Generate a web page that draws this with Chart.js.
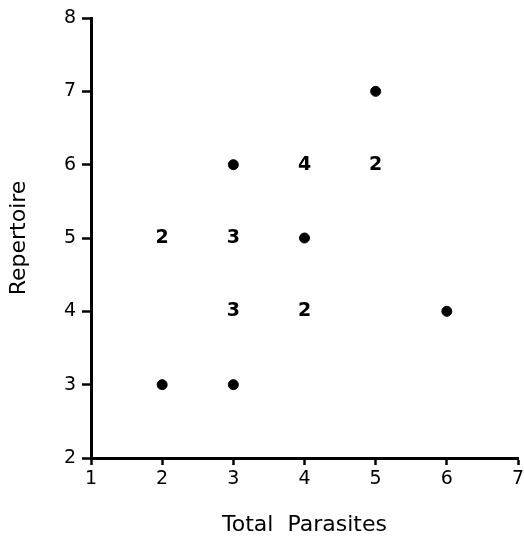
<!DOCTYPE html>
<html>
<head>
<meta charset="utf-8">
<script src="https://cdn.jsdelivr.net/npm/chart.js@4"></script>
<style>
  html, body { margin: 0; padding: 0; background: #fff; }
  #wrap { width: 524px; height: 544px; }
</style>
</head>
<body>
<div id="wrap"><canvas id="chart" width="524" height="544"></canvas></div>
<script>
// Puntos individuales (un solo caso)
const dotX = [2, 3, 3, 4, 5, 6];
const dotY = [3, 3, 6, 5, 7, 4];

// Posiciones con varios casos: se dibuja el número en vez del punto
const countX = [2, 3, 3, 4, 4, 5];
const countY = [5, 5, 4, 4, 6, 6];
const countN = [2, 3, 3, 2, 4, 2];

const xTicks = [1, 2, 3, 4, 5, 6, 7];
const yTicks = [2, 3, 4, 5, 6, 7, 8];

const FONT = '"DejaVu Sans", sans-serif';

// Plugin para escribir los conteos usando las escalas de la gráfica
const countLabels = {
    id: 'countLabels',
    afterDatasetsDraw(chart) {
        const ctx = chart.ctx;
        const xs = chart.scales.x, ys = chart.scales.y;
        ctx.save();
        ctx.fillStyle = '#000';
        ctx.font = 'bold 19px ' + FONT;
        ctx.textAlign = 'center';
        ctx.textBaseline = 'middle';
        for (let i = 0; i < countN.length; i++) {
            ctx.fillText(String(countN[i]), xs.getPixelForValue(countX[i]), ys.getPixelForValue(countY[i]));
        }
        ctx.restore();
    }
};

new Chart(document.getElementById('chart').getContext('2d'), {
    type: 'scatter',
    data: {
        datasets: [{
            data: dotX.map((x, i) => ({ x: x, y: dotY[i] })),
            backgroundColor: '#000',
            borderColor: '#000',
            pointRadius: 5,
            pointHoverRadius: 5
        }]
    },
    options: {
        responsive: false,
        animation: false,
        events: [],
        layout: { padding: { top: 18, right: 0, left: 0, bottom: 0 } },
        plugins: { legend: { display: false }, tooltip: { enabled: false } },
        scales: {
            x: {
                type: 'linear',
                min: 1, max: 7,
                afterBuildTicks: s => { s.ticks = xTicks.map(v => ({ value: v })); },
                afterFit: s => { s.height = 86; s.paddingRight = 6; },
                border: { color: '#000', width: 3 },
                grid: { drawOnChartArea: false, drawTicks: true, tickLength: 7, tickWidth: 2.5, tickColor: '#000' },
                ticks: { color: '#000', padding: 3, font: { family: FONT, size: 19 } },
                title: { display: true, text: 'Total  Parasites', color: '#000',
                         font: { family: FONT, size: 22 }, padding: { top: 0, bottom: 6 } }
            },
            y: {
                type: 'linear',
                min: 2, max: 8,
                afterBuildTicks: s => { s.ticks = yTicks.map(v => ({ value: v })); },
                afterFit: s => { s.width = 91; },
                border: { color: '#000', width: 3 },
                grid: { drawOnChartArea: false, drawTicks: true, tickLength: 9, tickWidth: 2.5, tickColor: '#000' },
                ticks: { color: '#000', padding: 6, font: { family: FONT, size: 19 } },
                title: { display: true, text: 'Repertoire', color: '#000',
                         font: { family: FONT, size: 22 }, padding: { top: 6, bottom: 0 } }
            }
        }
    },
    plugins: [countLabels]
});
</script>
</body>
</html>
